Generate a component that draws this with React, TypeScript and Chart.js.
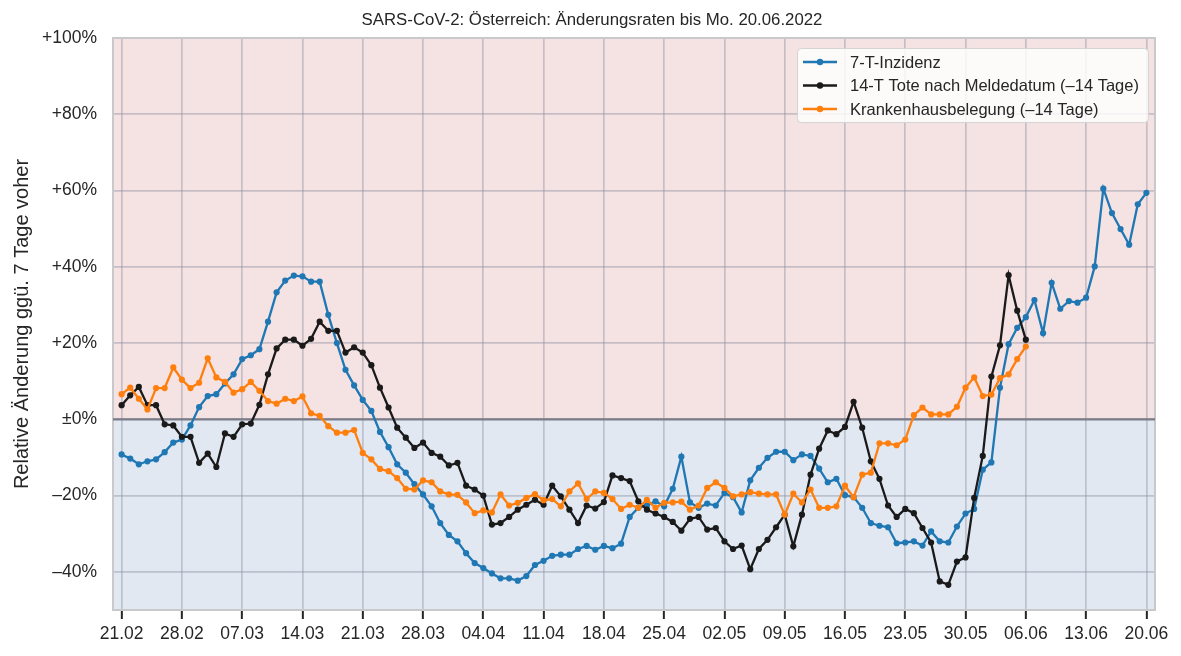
import React, { useEffect, useRef } from "react";
import { Chart, registerables } from "chart.js";

Chart.register(...registerables);

const TITLE = "SARS-CoV-2: Österreich: Änderungsraten bis Mo. 20.06.2022";
const Y_TITLE = "Relative Änderung ggü. 7 Tage voher";
const X_TICK_LABELS = [
  "21.02", "28.02", "07.03", "14.03", "21.03", "28.03", "04.04", "11.04", "18.04",
  "25.04", "02.05", "09.05", "16.05", "23.05", "30.05", "06.06", "13.06", "20.06",
];
const Y_TICKS = [-40, -20, 0, 20, 40, 60, 80, 100];
const SERIES_NAMES = [
  "7-T-Inzidenz",
  "14-T Tote nach Meldedatum (\u201314 Tage)",
  "Krankenhausbelegung (\u201314 Tage)",
];
const SERIES_COLORS = ["#1f77b4", "#1a1a1a", "#ff7f0e"];

// daily values starting 21.02.2022
const inzidenz = [
  -9.2, -10.3, -11.8, -11.0, -10.5, -8.6, -6.1, -5.3, -1.6, 3.2,
  6.1, 6.6, 9.4, 11.8, 15.8, 16.8, 18.4, 25.6, 33.3, 36.4,
  37.7, 37.5, 36.1, 36.1, 27.4, 20.0, 13.0, 8.9, 5.1, 2.2,
  -3.3, -7.3, -11.8, -14.0, -17.0, -19.7, -22.8, -27.2, -30.3, -32.0,
  -35.1, -37.7, -39.0, -40.4, -41.7, -41.7, -42.3, -41.1, -38.2, -37.1,
  -35.8, -35.5, -35.5, -34.0, -33.2, -34.2, -33.2, -33.8, -32.6, -25.6,
  -23.2, -22.6, -21.5, -22.8, -18.2, -9.8, -21.8, -23.2, -22.1, -22.6,
  -19.3, -20.4, -24.4, -16.0, -12.7, -10.1, -8.5, -8.5, -10.7, -9.2,
  -9.6, -12.9, -16.5, -15.6, -19.9, -20.4, -23.2, -27.2, -27.9, -28.3,
  -32.5, -32.3, -32.0, -33.1, -29.4, -32.0, -32.3, -28.1, -24.7, -23.5,
  -13.2, -11.3, 8.3, 19.7, 24.0, 26.8, 31.3, 22.6, 35.8, 29.0,
  31.0, 30.6, 31.9, 40.1, 60.5, 54.1, 49.9, 45.8, 56.4, 59.4,
];

const tote = [
  3.7, 6.3, 8.5, 3.7, 3.7, -1.3, -1.6, -4.6, -4.6, -11.4,
  -9.0, -12.5, -3.7, -4.6, -1.3, -1.1, 3.8, 11.8, 18.6, 20.9,
  20.9, 19.3, 21.1, 25.6, 23.2, 23.2, 17.5, 18.9, 17.5, 14.2,
  8.3, 3.1, -2.2, -4.8, -7.5, -6.1, -8.8, -9.8, -12.1, -11.4,
  -17.4, -18.4, -20.0, -27.6, -27.2, -25.6, -23.7, -22.4, -21.1, -22.4,
  -17.4, -20.2, -23.7, -27.2, -22.6, -23.4, -21.7, -14.7, -15.4, -16.2,
  -21.5, -23.7, -24.7, -25.6, -26.9, -29.2, -26.1, -25.6, -28.9, -28.5,
  -32.0, -34.0, -33.1, -39.3, -34.0, -31.6, -28.3, -25.0, -33.3, -25.0,
  -14.5, -7.7, -2.9, -3.9, -2.0, 4.6, -2.2, -11.0, -15.6, -22.6,
  -25.6, -23.5, -24.6, -28.5, -32.3, -42.5, -43.4, -37.3, -36.2, -20.6,
  -9.6, 11.2, 19.4, 37.8, 28.5, 20.9,
];

const krankenhaus = [
  6.6, 8.3, 5.4, 2.6, 8.2, 8.2, 13.6, 10.4, 8.2, 9.6,
  16.0, 11.0, 9.8, 7.0, 7.9, 9.8, 7.5, 4.8, 4.1, 5.4,
  4.8, 6.0, 1.6, 0.9, -1.8, -3.5, -3.5, -2.8, -8.8, -10.5,
  -13.0, -13.6, -15.4, -18.2, -18.4, -16.0, -16.5, -18.9, -19.7, -19.8,
  -21.8, -24.6, -23.9, -24.4, -19.7, -22.6, -21.9, -20.6, -19.6, -21.2,
  -20.9, -22.8, -18.9, -16.8, -20.9, -18.9, -19.3, -20.9, -23.5, -22.4,
  -23.2, -21.1, -23.2, -21.9, -21.8, -21.6, -23.7, -22.6, -18.0, -16.5,
  -18.0, -20.2, -19.7, -19.1, -19.5, -19.7, -19.7, -25.0, -19.5, -21.8,
  -18.4, -23.2, -23.2, -22.8, -17.4, -20.4, -14.5, -14.0, -6.3, -6.3,
  -6.8, -5.3, 1.1, 3.1, 1.3, 1.3, 1.3, 3.3, 8.3, 11.0,
  6.1, 6.5, 10.8, 11.8, 15.8, 19.1,
];

const FONT = "'Liberation Sans', Arial, Helvetica, sans-serif";
const TEXT = "#262626";

function fmtPct(v: number): string {
  if (v === 0) return "\u00b10%";
  if (v > 0) return "+" + v + "%";
  return "\u2013" + Math.abs(v) + "%";
}

export default function App() {
  const ref = useRef<HTMLCanvasElement>(null);

  useEffect(() => {
    document.body.style.margin = "0";
    const canvas = ref.current;
    if (!canvas) return;

    const toPts = (arr: number[]) => arr.map((v, i) => ({ x: i, y: v }));

    const bgPlugin = {
      id: "bgPlugin",
      beforeDraw(chart: any) {
        const { ctx, chartArea } = chart;
        const y0 = chart.scales.y.getPixelForValue(0);
        ctx.save();
        ctx.fillStyle = "#ffffff";
        ctx.fillRect(0, 0, chart.width, chart.height);
        ctx.fillStyle = "#f5e2e2";
        ctx.fillRect(chartArea.left, chartArea.top, chartArea.right - chartArea.left, y0 - chartArea.top);
        ctx.fillStyle = "#e1e8f2";
        ctx.fillRect(chartArea.left, y0, chartArea.right - chartArea.left, chartArea.bottom - y0);
        ctx.restore();
      },
      beforeDatasetsDraw(chart: any) {
        const { ctx, chartArea } = chart;
        const y0 = chart.scales.y.getPixelForValue(0);
        ctx.save();
        ctx.strokeStyle = "#c9c9cc";
        ctx.lineWidth = 2;
        ctx.strokeRect(chartArea.left, chartArea.top, chartArea.right - chartArea.left, chartArea.bottom - chartArea.top);
        ctx.strokeStyle = "#7c7c88";
        ctx.lineWidth = 2.2;
        ctx.beginPath();
        ctx.moveTo(chartArea.left, y0);
        ctx.lineTo(chartArea.right, y0);
        ctx.stroke();
        ctx.restore();
      },
      afterDraw(chart: any) {
        const { ctx, chartArea } = chart;
        ctx.save();
        // title
        ctx.fillStyle = TEXT;
        ctx.font = `16.8px ${FONT}`;
        ctx.textAlign = "center";
        ctx.textBaseline = "middle";
        ctx.fillText(TITLE, 592, 20);
        // y axis title
        ctx.font = `20px ${FONT}`;
        ctx.save();
        ctx.translate(22, (chartArea.top + chartArea.bottom) / 2);
        ctx.rotate(-Math.PI / 2);
        ctx.fillText(Y_TITLE, 0, 0);
        ctx.restore();
        // legend
        const bx = 797, by = 48, bw = 351, bh = 74;
        ctx.fillStyle = "rgba(255,255,255,0.82)";
        ctx.strokeStyle = "#d4d4d4";
        ctx.lineWidth = 1;
        ctx.beginPath();
        (ctx as any).roundRect(bx + 0.5, by + 0.5, bw, bh, 4);
        ctx.fill();
        ctx.stroke();
        ctx.font = `16.5px ${FONT}`;
        ctx.textAlign = "left";
        ctx.textBaseline = "middle";
        const rows = [62, 85.5, 109];
        SERIES_NAMES.forEach((name, i) => {
          const y = rows[i];
          ctx.strokeStyle = SERIES_COLORS[i];
          ctx.fillStyle = SERIES_COLORS[i];
          ctx.lineWidth = 2.4;
          ctx.beginPath();
          ctx.moveTo(803, y);
          ctx.lineTo(837, y);
          ctx.stroke();
          ctx.beginPath();
          ctx.arc(820, y, 3.2, 0, Math.PI * 2);
          ctx.fill();
          ctx.fillStyle = TEXT;
          ctx.fillText(name, 850, y + 1);
        });
        ctx.restore();
      },
    };

    const gridColor = "rgba(135,140,158,0.42)";

    const mkDs = (i: number, arr: number[], order: number) => ({
      label: SERIES_NAMES[i],
      data: toPts(arr),
      borderColor: SERIES_COLORS[i],
      backgroundColor: SERIES_COLORS[i],
      pointBackgroundColor: SERIES_COLORS[i],
      pointBorderColor: SERIES_COLORS[i],
      pointRadius: 3.1,
      pointBorderWidth: 0,
      borderWidth: 2.3,
      tension: 0,
      fill: false,
      order,
    });

    const chart = new Chart(canvas, {
      type: "line",
      data: {
        datasets: [mkDs(0, inzidenz, 3), mkDs(1, tote, 2), mkDs(2, krankenhaus, 1)],
      },
      options: {
        animation: false,
        responsive: false,
        maintainAspectRatio: false,
        layout: { padding: { left: 0, top: 38, right: 26, bottom: 0 } },
        plugins: {
          legend: { display: false },
          tooltip: { enabled: false },
          title: { display: false },
        },
        scales: {
          x: {
            type: "linear",
            min: -1,
            max: 120,
            afterBuildTicks: (s: any) => {
              s.ticks = X_TICK_LABELS.map((_, i) => ({ value: i * 7 }));
            },
            afterFit: (s: any) => {
              s.height = 46;
            },
            ticks: {
              callback: (v: any) => X_TICK_LABELS[Math.round(Number(v) / 7)],
              font: { family: FONT, size: 17.5 },
              color: TEXT,
              padding: 5,
              maxRotation: 0,
              autoSkip: false,
            },
            grid: {
              color: gridColor,
              lineWidth: 1.7,
              drawTicks: true,
              tickLength: 9,
              tickColor: "#262626",
              tickWidth: 2,
            },
            border: { display: false },
          },
          y: {
            type: "linear",
            min: -50,
            max: 100,
            afterBuildTicks: (s: any) => {
              s.ticks = Y_TICKS.map((v) => ({ value: v }));
            },
            afterFit: (s: any) => {
              s.width = 113;
            },
            ticks: {
              callback: (v: any) => fmtPct(Number(v)),
              font: { family: FONT, size: 17.5 },
              color: TEXT,
              padding: 16,
            },
            grid: {
              color: gridColor,
              lineWidth: 1.7,
              drawTicks: false,
            },
            border: { display: false },
          },
        },
      },
      plugins: [bgPlugin],
    } as any);

    return () => chart.destroy();
  }, []);

  return (
    <div style={{ width: 1181, height: 656 }}>
      <canvas ref={ref} width={1181} height={656} style={{ display: "block", width: 1181, height: 656 }} />
    </div>
  );
}
